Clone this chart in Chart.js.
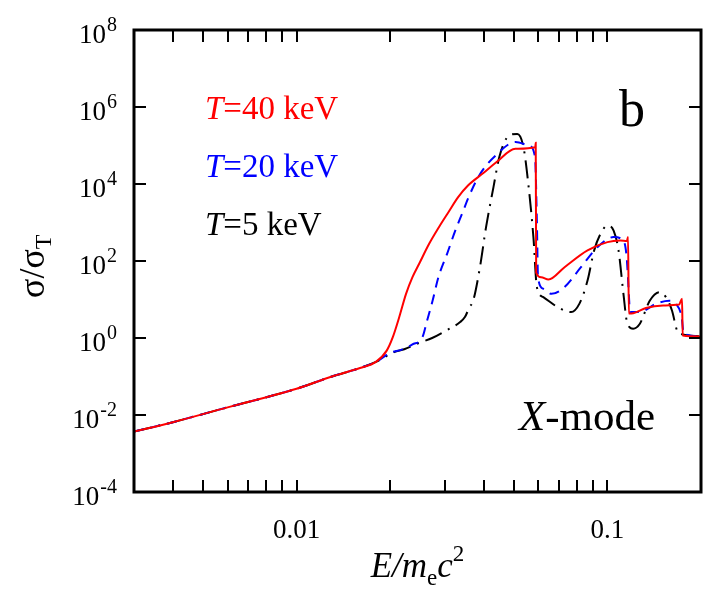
<!DOCTYPE html>
<html>
<head>
<meta charset="utf-8">
<script src="https://cdn.jsdelivr.net/npm/chart.js@4.4.1/dist/chart.umd.min.js"></script>
<style>
  html, body { margin: 0; padding: 0; overflow: hidden; background: #fff; }
  #wrap { width: 716px; height: 590px; position: relative; }
</style>
</head>
<body>
<div id="wrap"><canvas id="xsec"></canvas></div>
<script>
// low-energy part, common to all temperatures
const xLow = [0.003, 0.004, 0.006, 0.008, 0.01, 0.013, 0.016, 0.018];
const yLow = [0.0037, 0.0065, 0.0158, 0.029, 0.048, 0.10, 0.166, 0.24];

// T = 40 keV
const x40 = [0.0195, 0.0204, 0.0214, 0.0225, 0.0236, 0.0248, 0.0267, 0.0287, 0.0308, 0.0331,
  0.0356, 0.0400, 0.0438, 0.0506, 0.0586, 0.0588, 0.0590, 0.0612, 0.0646, 0.0728, 0.0863,
  0.1, 0.110, 0.1155, 0.1165, 0.1172, 0.121, 0.133, 0.151, 0.170, 0.1738, 0.1746, 0.2];
const y40 = [0.47, 1.05, 3.5, 14, 38, 85, 280, 755, 1850, 4540,
  9100, 19500, 36000, 82000, 90000, 117000, 50, 38, 33, 69, 188,
  309, 339, 330, 420, 4.3, 4.4, 6.0, 7.0, 7.4, 10.5, 1.16, 1.1];

// T = 20 keV
const x20 = [0.0200, 0.0218, 0.0236, 0.0254, 0.0263, 0.0274, 0.0286, 0.0305, 0.0324, 0.0344,
  0.0356, 0.0389, 0.0438, 0.0506, 0.0558, 0.0585, 0.0593, 0.0598, 0.0622, 0.0661, 0.0728,
  0.0822, 0.0929, 0.1047, 0.1125, 0.1153, 0.1175, 0.118, 0.127, 0.1435, 0.158, 0.166,
  0.1733, 0.176, 0.2];
const y20 = [0.41, 0.50, 0.68, 1.05, 2.85, 9.4, 38, 154, 617, 2040,
  4170, 18000, 56000, 123000, 100000, 50100, 1120, 38, 19, 14, 21,
  69, 229, 417, 339, 126, 9.3, 4.7, 4.7, 7.8, 9.3, 7.8,
  3.5, 1.29, 1.1];

// T = 5 keV
const x5 = [0.0206, 0.0222, 0.0245, 0.0273, 0.030, 0.0336, 0.0348, 0.036, 0.037, 0.0389,
  0.0407, 0.043, 0.0449, 0.0483, 0.0513, 0.0537, 0.0558, 0.0578, 0.0593, 0.0622, 0.0693,
  0.0764, 0.0813, 0.0863, 0.0906, 0.0951, 0.1, 0.1047, 0.1086, 0.1126, 0.1156, 0.121,
  0.127, 0.1368, 0.1469, 0.1542, 0.1614, 0.1675, 0.1718, 0.2];
const y5 = [0.43, 0.51, 0.72, 1.0, 1.5, 2.6, 3.5, 6.3, 9.3, 69,
  760, 8300, 50100, 182000, 200000, 91000, 8300, 417, 21, 11.5, 6.3,
  4.7, 7.8, 31, 186, 513, 832, 617, 186, 14, 2.6, 1.74,
  2.3, 9.3, 15.5, 11.5, 5.1, 1.55, 1.29, 1.1];

// axes
const xTickValues = [0.004, 0.005, 0.006, 0.007, 0.008, 0.009, 0.01, 0.02, 0.03, 0.04, 0.05,
  0.06, 0.07, 0.08, 0.09, 0.1, 0.2];
const xTickLabeled = [0.01, 0.1];
const yTickValues = [1e-4, 1e-2, 1, 1e2, 1e4, 1e6, 1e8];
const yTickExp = ["-4", "-2", "0", "2", "4", "6", "8"];

const serif = "'Liberation Serif', 'Times New Roman', serif";

function pts(xs, ys) {
  return xs.map((x, i) => ({ x: x, y: ys[i] }));
}

// draws a run of text pieces with their own fonts / offsets
function drawRuns(ctx, x, y, runs, color) {
  ctx.fillStyle = color;
  ctx.textBaseline = "alphabetic";
  ctx.textAlign = "left";
  let cx = x;
  runs.forEach(r => {
    ctx.font = r.font;
    ctx.fillText(r.text, cx, y + (r.dy || 0));
    cx += ctx.measureText(r.text).width;
  });
  return cx - x;
}
function runsWidth(ctx, runs) {
  let w = 0;
  runs.forEach(r => { ctx.font = r.font; w += ctx.measureText(r.text).width; });
  return w;
}

const framePlugin = {
  id: "frame",
  afterDraw(chart) {
    const ctx = chart.ctx;
    const a = chart.chartArea;
    const xs = chart.scales.x, ys = chart.scales.y;
    ctx.save();
    ctx.strokeStyle = "#000";
    // inward ticks
    ctx.lineWidth = 2;
    const tl = 12;
    ctx.beginPath();
    xTickValues.forEach(v => {
      const px = Math.round(xs.getPixelForValue(v));
      if (px <= a.left + 1 || px >= a.right - 1) return;
      ctx.moveTo(px, a.bottom); ctx.lineTo(px, a.bottom - tl);
      ctx.moveTo(px, a.top); ctx.lineTo(px, a.top + tl);
    });
    yTickValues.forEach(v => {
      const py = Math.round(ys.getPixelForValue(v));
      if (py <= a.top + 1 || py >= a.bottom - 1) return;
      ctx.moveTo(a.left, py); ctx.lineTo(a.left + tl, py);
      ctx.moveTo(a.right, py); ctx.lineTo(a.right - tl, py);
    });
    ctx.stroke();
    // frame
    ctx.lineWidth = 3;
    ctx.strokeRect(a.left, a.top, a.right - a.left, a.bottom - a.top);

    // y tick labels, 10 with a raised exponent
    ctx.fillStyle = "#000";
    ctx.textAlign = "right";
    ctx.textBaseline = "alphabetic";
    yTickValues.forEach((v, i) => {
      const py = ys.getPixelForValue(v);
      const right = a.left - 17;
      ctx.font = "20px " + serif;
      ctx.fillText(yTickExp[i], right, py + 1);
      const ew = ctx.measureText(yTickExp[i]).width;
      ctx.font = "27px " + serif;
      ctx.fillText("10", right - ew - 1, py + 13);
    });

    // legend text
    const lf = "33px " + serif;
    const lfi = "italic 33px " + serif;
    chart.data.datasets.forEach((ds, i) => {
      drawRuns(ctx, 205, 119 + i * 58, [
        { text: "T", font: lfi },
        { text: "=" + ds.label + " keV", font: lf }
      ], ds.borderColor);
    });

    // panel letter and mode
    drawRuns(ctx, 619, 126, [{ text: "b", font: "52px " + serif }], "#000");
    drawRuns(ctx, 519, 430, [
      { text: "X", font: "italic 43px " + serif },
      { text: "-mode", font: "43px " + serif }
    ], "#000");

    // x title
    const xt = [
      { text: "E/m", font: "italic 35px " + serif },
      { text: "e", font: "23px " + serif, dy: 8 },
      { text: "c", font: "italic 35px " + serif },
      { text: "2", font: "23px " + serif, dy: -16 }
    ];
    const xw = runsWidth(ctx, xt);
    drawRuns(ctx, (a.left + a.right) / 2 - xw / 2, 577, xt, "#000");

    // y title
    ctx.translate(44, 298);
    ctx.rotate(-Math.PI / 2);
    drawRuns(ctx, 0, 0, [
      { text: "\u03C3/\u03C3", font: "36px " + serif },
      { text: "T", font: "24px " + serif, dy: 7 }
    ], "#000");
    ctx.restore();
  }
};

new Chart(document.getElementById("xsec"), {
  type: "line",
  data: {
    datasets: [
      {
        label: "40",
        data: pts(xLow.concat(x40), yLow.concat(y40)),
        borderColor: "#ff0000",
        borderWidth: 2
      },
      {
        label: "20",
        data: pts(xLow.concat(x20), yLow.concat(y20)),
        borderColor: "#0000ff",
        borderWidth: 2,
        borderDash: [10, 7]
      },
      {
        label: "5",
        data: pts(xLow.concat(x5), yLow.concat(y5)),
        borderColor: "#000000",
        borderWidth: 2,
        borderDash: [18, 7, 2, 7]
      }
    ]
  },
  options: {
    responsive: true,
    maintainAspectRatio: false,
    animation: false,
    layout: { padding: { left: 0, right: 4, top: 30, bottom: 0 } },
    elements: {
      point: { radius: 0 },
      line: { cubicInterpolationMode: "monotone", fill: false }
    },
    plugins: {
      legend: { display: false },
      tooltip: { enabled: false }
    },
    scales: {
      x: {
        type: "logarithmic",
        min: 0.003,
        max: 0.2,
        grid: { display: false },
        border: { display: false },
        afterBuildTicks: s => { s.ticks = xTickValues.map(v => ({ value: v })); },
        afterFit: s => { s.height = 98; },
        ticks: {
          autoSkip: false,
          maxRotation: 0,
          padding: 15,
          color: "#000",
          font: { family: serif, size: 27 },
          callback: v => xTickLabeled.includes(v) ? String(v) : ""
        }
      },
      y: {
        type: "logarithmic",
        min: 1e-4,
        max: 1e8,
        grid: { display: false },
        border: { display: false },
        afterBuildTicks: s => { s.ticks = yTickValues.map(v => ({ value: v })); },
        afterFit: s => { s.width = 134; },
        ticks: { display: false }
      }
    }
  },
  plugins: [framePlugin]
});
</script>
</body>
</html>
